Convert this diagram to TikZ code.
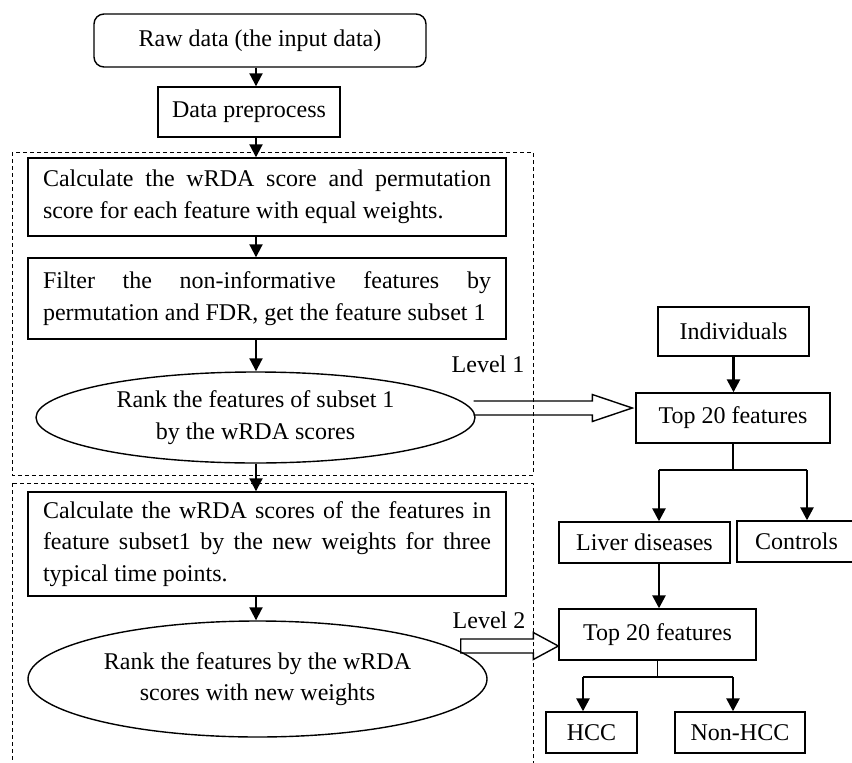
\documentclass[tikz,border=0pt]{standalone}
\usepackage{fontspec}
\setmainfont{Liberation Serif}
\usetikzlibrary{arrows.meta,positioning,fit,calc,shapes.geometric}
\tolerance=10000
\hbadness=10000
\hyphenpenalty=10000
\exhyphenpenalty=10000

\begin{document}
\begin{tikzpicture}[
    x=1pt, y=-1pt,
    txt/.style={font=\fontsize{24}{31.5}\selectfont, text=black},
    box/.style={txt, draw=black, line width=1.4pt, inner sep=0pt, align=center},
    textbox/.style={txt, draw=black, line width=1.4pt, inner xsep=15pt, inner ysep=0pt, text width=448pt, align=justify},
    oval/.style={txt, ellipse, draw=black, line width=1.4pt, inner sep=0pt, align=center},
    levelframe/.style={draw=black, dash pattern=on 4pt off 3pt, line width=0.9pt},
    connector/.style={-{Triangle[length=13pt,width=13pt]}, line width=2pt, black},
    branch/.style={line width=1.4pt, black},
    hollow/.style={draw=black, line width=1.4pt, line join=miter}
  ]
    \useasboundingbox (0,0) rectangle (852,763);
    \clip (0,0) rectangle (852,763);
    \fill[white] (0,0) rectangle (852,763);

    % Entrada
    \node[box, rounded corners=10pt, minimum width=332pt, minimum height=53pt] (raw) at (260,40.5) {Raw data (the input data)};
    \node[box, minimum width=182pt, minimum height=50pt] (prep) at (249,112) {Data preprocess};

    % Level 1
    \draw[levelframe] (12,152) rectangle (533,475);
    \node[textbox, minimum height=78pt] (calcEqual) at (267,197) {Calculate the wRDA score and permutation\linebreak score for each feature with equal weights.};
    \node[textbox, minimum height=81pt] (filter) at (267,298.5) {Filter the non-informative features by\linebreak permutation and FDR, get the feature subset 1};
    \node[oval, minimum width=439pt, minimum height=91pt] (rankOne) at (255.5,417.5) {Rank the features of subset 1\\by the wRDA scores};
    \node[txt] (levelOne) at (488,364) {Level 1};

    % Level 2
    \draw[levelframe] (12,483) rectangle (533,780);
    \node[textbox, minimum height=104pt] (calcNew) at (267,544) {Calculate the wRDA scores of the features in\linebreak feature subset1 by the new weights for three\linebreak typical time points.};
    \node[oval, minimum width=459pt, minimum height=116pt] (rankTwo) at (257.5,679) {Rank the features by the wRDA\\scores with new weights};
    \node[txt] (levelTwo) at (489,620) {Level 2};

    % Classificacao
    \node[box, minimum width=151pt, minimum height=49pt] (indiv) at (733.5,331.5) {Individuals};
    \node[box, minimum width=194pt, minimum height=50pt] (topOne) at (733,418) {Top 20 features};
    \node[box, minimum width=171pt, minimum height=41pt] (liver) at (644.5,542.5) {Liver diseases};
    \node[box, minimum width=119pt, minimum height=41pt] (controls) at (796.5,541.5) {Controls};
    \node[box, minimum width=197pt, minimum height=51pt] (topTwo) at (657.5,634.5) {Top 20 features};
    \node[box, minimum width=91pt, minimum height=41pt] (hcc) at (591.5,732.5) {HCC};
    \node[box, minimum width=130pt, minimum height=41pt] (nonHcc) at (740,732.5) {Non-HCC};

    % Conectores
    \coordinate (spine) at (256,0);
    \draw[connector] (raw.south -| spine) -- (prep.north -| spine);
    \draw[connector] (prep.south -| spine) -- (calcEqual.north -| spine);
    \draw[connector] (calcEqual.south -| spine) -- (filter.north -| spine);
    \draw[connector] (filter.south -| spine) -- (rankOne.north -| spine);
    \draw[connector] (rankOne.south -| spine) -- (calcNew.north -| spine);
    \draw[connector] (calcNew.south -| spine) -- (rankTwo.north -| spine);

    \draw[connector, line width=2.6pt] (indiv.south) -- (indiv.south |- topOne.north);
    \coordinate (forkOne) at (659,470);
    \coordinate (forkOneR) at (807,470);
    \draw[branch] (topOne.south) -- (topOne.south |- forkOne);
    \draw[branch] (forkOne) -- (forkOneR);
    \draw[connector, line width=2.6pt] (forkOne) -- (forkOne |- liver.north);
    \draw[connector, line width=2.6pt] (forkOneR) -- (forkOneR |- controls.north);
    \draw[connector, line width=2.6pt] (forkOne |- liver.south) -- (forkOne |- topTwo.north);
    \coordinate (forkTwo) at (583,677);
    \coordinate (forkTwoR) at (733,677);
    \draw[branch] (topTwo.south) -- (topTwo.south |- forkTwo);
    \draw[branch] (forkTwo) -- (forkTwoR);
    \draw[connector, line width=2.6pt] (forkTwo) -- (forkTwo |- hcc.north);
    \draw[connector, line width=2.6pt] (forkTwoR) -- (forkTwoR |- nonHcc.north);

    % Setas vazadas
    \coordinate (tipOne) at ($(topOne.west)+(-3,-10)$);
    \coordinate (tailOne) at ($(rankOne.east |- tipOne)+(-2,0)$);
    \draw[hollow] ($(tailOne)+(0,-7)$) -- ($(tipOne)+(-40,-7)$) -- ($(tipOne)+(-40,-13.5)$) -- (tipOne) -- ($(tipOne)+(-40,13.5)$) -- ($(tipOne)+(-40,7)$) -- ($(tailOne)+(0,7)$);
    \coordinate (tipTwo) at ($(topTwo.west)+(0,11.5)$);
    \coordinate (tailTwo) at ($(rankTwo.east |- tipTwo)+(-27,0)$);
    \draw[hollow] ($(tailTwo)+(0,-7)$) -- ($(tipTwo)+(-25,-7)$) -- ($(tipTwo)+(-25,-13.5)$) -- (tipTwo) -- ($(tipTwo)+(-25,13.5)$) -- ($(tipTwo)+(-25,7)$) -- ($(tailTwo)+(0,7)$) -- cycle;
  \end{tikzpicture}
\end{document}
